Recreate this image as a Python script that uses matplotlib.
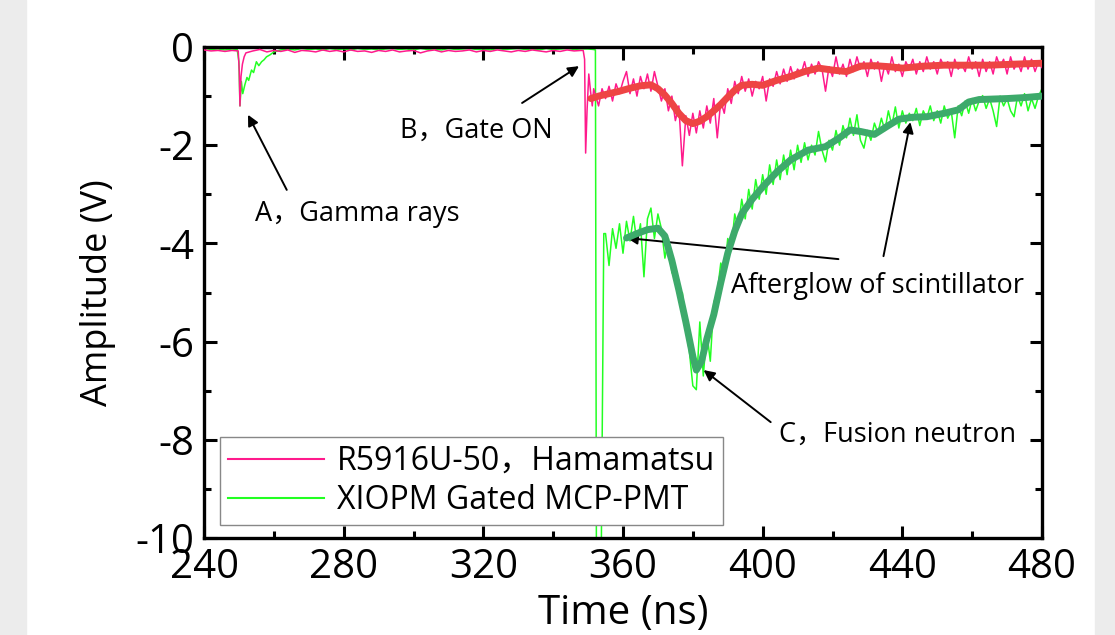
import matplotlib
matplotlib.use("Agg")
import matplotlib.pyplot as plt
import numpy as np
from matplotlib.patches import Rectangle

plt.rcParams["font.family"] = ["Open Sans", "Noto Sans CJK SC", "DejaVu Sans"]
plt.rcParams["axes.unicode_minus"] = False

# --- R5916U-50 (Hamamatsu) raw trace ---
# irregular head: baseline, gamma peak, gate-on transient
pink_t_head = [240, 242, 244, 246, 248, 249.8, 250.1, 250.3, 250.6, 251.0, 251.5, 252, 253,
               254, 256, 258, 260, 262, 264, 266, 268, 270, 272, 274, 276, 278, 280,
               282, 284, 286, 288, 290, 292, 294, 296, 298, 300, 302, 304, 306, 308,
               310, 312, 314, 316, 318, 320, 322, 324, 326, 328, 330, 332, 334, 336,
               338, 340, 342, 344, 346, 348, 348.6, 349.0, 349.3, 349.7, 350.2, 350.7,
               351.2, 351.6]
pink_v_head = [-0.06, -0.08, -0.07, -0.09, -0.07, -0.08, -0.5, -1.2, -0.6, -0.35, -0.2, -0.12, -0.1,
               -0.08, -0.05, -0.1, -0.07, -0.09, -0.06, -0.11, -0.07, -0.08, -0.1, -0.06, -0.09, -0.07, -0.1,
               -0.06, -0.09, -0.08, -0.11, -0.07, -0.09, -0.06, -0.1, -0.08, -0.07, -0.12, -0.08, -0.06, -0.1,
               -0.07, -0.09, -0.08, -0.06, -0.1, -0.07, -0.09, -0.06, -0.08, -0.1, -0.07, -0.09, -0.06, -0.08,
               -0.1, -0.07, -0.09, -0.06, -0.08, -0.07, -0.07, -0.25, -2.16, -1.3, -0.55, -0.9,
               -1.2, -0.85]
# 1 ns samples from 352 to 480 ns
pink_v_tail = [
    -0.95, -1.2, -0.85, -1.05, -0.8, -1.1, -0.75, -0.95, -0.7, -0.5,     # 352-361
    -0.95, -0.65, -1.0, -0.6, -0.85, -0.55, -0.9, -0.5, -0.8, -1.1,      # 362-371
    -0.85, -1.3, -1.0, -1.5, -1.2, -2.42, -1.4, -1.8, -1.35, -1.75,      # 372-381
    -1.3, -1.65, -1.2, -1.55, -1.05, -1.85, -1.1, -1.35, -0.85, -1.15,   # 382-391
    -0.7, -0.95, -0.6, -0.9, -0.65, -1.0, -0.7, -0.85, -0.6, -1.1,       # 392-401
    -0.65, -0.8, -0.5, -0.75, -0.45, -0.7, -0.4, -0.65, -0.45, -0.55,    # 402-411
    -0.3, -0.6, -0.35, -0.55, -0.3, -0.45, -0.9, -0.4, -0.6, -0.2,       # 412-421
    -0.55, -0.35, -0.6, -0.25, -0.5, -0.2, -0.45, -0.3, -0.6, -0.25,     # 422-431
    -0.45, -0.3, -0.7, -0.35, -0.55, -0.2, -0.5, -0.35, -0.6, -0.3,      # 432-441
    -0.45, -0.25, -0.55, -0.3, -0.5, -0.2, -0.45, -0.3, -0.55, -0.25,    # 442-451
    -0.4, -0.3, -0.6, -0.25, -0.45, -0.35, -0.5, -0.2, -0.45, -0.3,      # 452-461
    -0.6, -0.25, -0.5, -0.3, -0.55, -0.2, -0.4, -0.25, -0.55, -0.2,      # 462-471
    -0.45, -0.3, -0.5, -0.2, -0.45, -0.25, -0.5, -0.3, -0.42,            # 472-480
]
pink_t_tail = np.arange(352, 481)

# --- XIOPM gated MCP-PMT raw trace ---
green_t_head = [240, 242, 244, 246, 248, 249.5, 250.0, 250.3, 250.7, 251.1, 251.7, 252.3, 252.8,
                253.6, 254.2, 255.0, 255.7, 256.5, 257.2, 257.9, 258.9, 260, 262,
                264, 266, 268, 270, 272, 274, 276, 278, 280, 282, 284, 286, 288, 290,
                292, 294, 296, 298, 300, 302, 304, 306, 308, 310, 312, 314, 316, 318,
                320, 322, 324, 326, 328, 330, 332, 334, 336, 338, 340, 342, 344, 346,
                348, 350, 351.5, 352.1, 352.4, 353.7, 354.5]
green_v_head = [-0.03, -0.05, -0.04, -0.06, -0.04, -0.05, -0.3, -1.2, -0.7, -0.95, -0.77, -0.62, -0.68,
                -0.47, -0.52, -0.3, -0.38, -0.3, -0.26, -0.2, -0.16, -0.1, -0.06,
                -0.04, -0.06, -0.03, -0.05, -0.04, -0.06, -0.03, -0.05, -0.04, -0.06, -0.03, -0.05, -0.04, -0.06,
                -0.04, -0.03, -0.05, -0.04, -0.06, -0.03, -0.05, -0.04, -0.06, -0.03, -0.05, -0.04, -0.03, -0.05,
                -0.04, -0.06, -0.03, -0.05, -0.04, -0.03, -0.05, -0.04, -0.06, -0.03, -0.05, -0.04, -0.03, -0.05,
                -0.04, -0.04, -0.05, -0.06, -11.0, -11.0, -3.8]
# 1 ns samples from 355 to 480 ns
green_v_tail = [
    -3.8, -4.45, -3.7, -4.1, -3.6, -4.2, -3.55, -3.95, -3.45, -4.0,      # 355-364
    -3.6, -4.68, -3.5, -3.28, -3.9, -3.4, -3.7, -4.3, -3.9, -4.6,        # 365-374
    -4.5, -5.1, -5.0, -5.7, -6.2, -6.9, -6.98, -5.6, -6.7, -5.8,         # 375-384
    -6.4, -5.2, -5.0, -4.4, -4.6, -3.9, -4.1, -3.4, -3.7, -3.1,          # 385-394
    -3.5, -2.9, -3.3, -2.7, -3.1, -2.6, -3.0, -2.4, -2.8, -2.3,          # 395-404
    -2.7, -2.2, -2.6, -2.1, -2.5, -2.0, -2.35, -1.95, -2.3, -2.0,        # 405-414
    -2.2, -1.72, -2.1, -2.34, -1.9, -2.1, -1.7, -2.0, -1.6, -1.85,       # 415-424
    -1.45, -1.8, -1.38, -1.9, -2.06, -1.7, -1.9, -1.55, -1.75, -1.45,    # 425-434
    -1.7, -1.3, -1.6, -1.22, -1.65, -1.3, -1.55, -1.35, -1.5, -1.25,     # 435-444
    -1.6, -1.3, -1.45, -1.2, -1.5, -1.3, -1.55, -1.2, -1.45, -1.3,       # 445-454
    -1.85, -1.2, -1.4, -1.1, -1.35, -1.05, -1.3, -1.1, -0.99, -1.25,     # 455-464
    -1.05, -1.3, -1.62, -1.0, -1.2, -1.05, -1.3, -1.42, -1.0, -1.2,      # 465-474
    -0.95, -1.3, -1.05, -1.25, -1.0, -0.85,                              # 475-480
]
green_t_tail = np.arange(355, 481)

# --- smoothed curves ---
red_smooth_t = [350.8, 353, 356, 359, 362, 365, 368, 370, 372, 374, 376, 378, 380, 382, 384,
                386, 388, 390, 392, 394, 397, 400, 404, 408, 412, 416, 420, 424, 428, 432,
                436, 440, 446, 452, 458, 465, 472, 480]
red_smooth_v = [-1.05, -1.0, -0.95, -0.9, -0.84, -0.79, -0.77, -0.85, -0.98, -1.15, -1.35, -1.5, -1.56, -1.51, -1.42,
                -1.3, -1.17, -1.02, -0.88, -0.78, -0.76, -0.78, -0.68, -0.6, -0.5, -0.43, -0.47, -0.5, -0.39, -0.38,
                -0.4, -0.43, -0.39, -0.37, -0.37, -0.37, -0.35, -0.33]

green_smooth_t = [361, 364, 367, 370, 372, 374, 376, 378, 380, 381, 382.5, 384, 386, 388, 390,
                  392, 394, 397, 400, 404, 408, 413, 418, 422, 425, 428, 432, 436, 439, 443,
                  447, 452, 456, 459, 462, 466, 470, 475, 480]
green_smooth_v = [-3.89, -3.8, -3.72, -3.69, -3.85, -4.35, -4.95, -5.6, -6.3, -6.58, -6.4, -5.95, -5.45, -4.8, -4.2,
                  -3.75, -3.4, -3.1, -2.85, -2.55, -2.3, -2.1, -2.03, -1.85, -1.69, -1.72, -1.78, -1.6, -1.47, -1.43,
                  -1.42, -1.35, -1.28, -1.12, -1.07, -1.06, -1.05, -1.03, -1.0]

PINK = "#FF1A8C"
GREEN = "#22FF22"
RED_SMOOTH = "#EE4444"
GREEN_SMOOTH = "#3DAA6B"

fig = plt.figure(figsize=(11.15, 6.35), dpi=100)
fig.patches.append(Rectangle((0, 0), 26 / 1115, 1, transform=fig.transFigure,
                             color="#ececec", zorder=0))
fig.patches.append(Rectangle((1095 / 1115, 0), 20 / 1115, 1, transform=fig.transFigure,
                             color="#ececec", zorder=0))
ax = fig.add_axes([204 / 1115, 97 / 635, 838 / 1115, 491 / 635])

pink_t = np.concatenate([pink_t_head, pink_t_tail])
pink_v = np.concatenate([pink_v_head, pink_v_tail])
green_t = np.concatenate([green_t_head, green_t_tail])
green_v = np.concatenate([green_v_head, green_v_tail])

ax.plot(pink_t, pink_v, color=PINK, lw=1.1, label="R5916U-50，Hamamatsu", zorder=3)
ax.plot(green_t, green_v, color=GREEN, lw=1.1, label="XIOPM Gated MCP-PMT", zorder=2)
ax.plot(red_smooth_t, red_smooth_v, color=RED_SMOOTH, lw=5, solid_capstyle="round", zorder=4)
ax.plot(green_smooth_t, green_smooth_v, color=GREEN_SMOOTH, lw=5, solid_capstyle="round", zorder=4)

ax.set_xlim(240, 480)
ax.set_ylim(-10, 0)
ax.set_xticks(np.arange(240, 481, 40))
ax.set_xticks(np.arange(260, 480, 40), minor=True)
ax.set_yticks(np.arange(-10, 1, 2))
ax.set_yticks(np.arange(-9, 0, 2), minor=True)
ax.tick_params(which="both", direction="in", top=True, right=True, width=2.2)
ax.tick_params(which="major", length=9, labelsize=29, pad=7)
ax.tick_params(which="minor", length=5)
for s in ax.spines.values():
    s.set_linewidth(2.4)

ax.set_xlabel("Time (ns)", fontsize=29, labelpad=4)
ax.set_ylabel("Amplitude (V)", fontsize=26, labelpad=14)

arrow = dict(arrowstyle="-|>", color="black", lw=1.4, mutation_scale=16, shrinkA=0, shrinkB=0)
ax.annotate("", xy=(252.6, -1.38), xytext=(263.7, -2.91), arrowprops=arrow)
ax.text(254.6, -3.4, "A，Gamma rays", fontsize=19.5, va="center", ha="left")
ax.annotate("", xy=(347.4, -0.39), xytext=(331.1, -1.14), arrowprops=arrow)
ax.text(296, -1.7, "B，Gate ON", fontsize=19.5, va="center", ha="left")
ax.annotate("", xy=(361.1, -3.89), xytext=(421.7, -4.32), arrowprops=arrow)
ax.annotate("", xy=(442.3, -1.53), xytext=(434.6, -4.26), arrowprops=arrow)
ax.text(390.9, -4.86, "Afterglow of scintillator", fontsize=19.5, va="center", ha="left")
ax.annotate("", xy=(383.1, -6.58), xytext=(402.3, -7.64), arrowprops=arrow)
ax.text(404.6, -7.9, "C，Fusion neutron", fontsize=19.5, va="center", ha="left")

leg = ax.legend(loc="lower left", bbox_to_anchor=(0.019, 0.026), borderaxespad=0,
                fontsize=23, frameon=True, fancybox=False, framealpha=1.0, handlelength=3.0,
                handletextpad=0.4, labelspacing=0.2, borderpad=0.25)
leg.get_frame().set_edgecolor("#888888")
leg.get_frame().set_linewidth(1.0)
for line in leg.get_lines():
    line.set_linewidth(1.5)

fig.savefig("out.png", dpi=100)
